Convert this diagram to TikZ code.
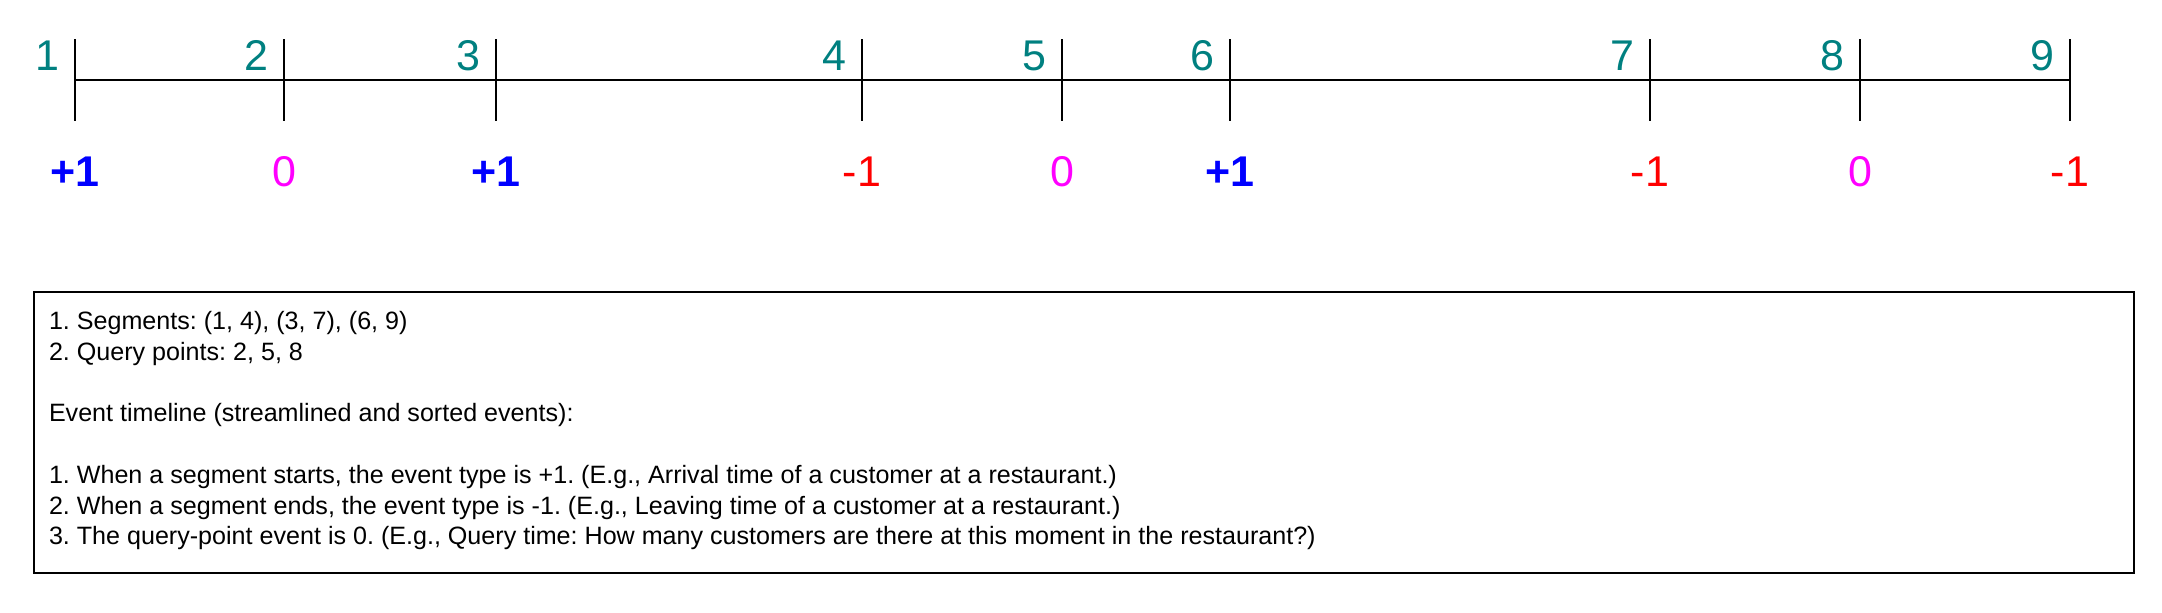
\documentclass[tikz,border=0pt]{standalone}
\usepackage{fontspec}
\setmainfont{Liberation Sans}
\definecolor{querypink}{RGB}{255,0,255}

\begin{document}
\frenchspacing
\begin{tikzpicture}[x=0.5pt, y=-0.5pt, line width=1pt,
  ticknum/.style={text=teal, font=\fontsize{21.5}{25}\selectfont, anchor=base east, inner sep=0pt},
  evtype/.style={font=\fontsize{21.5}{25}\selectfont, anchor=base, inner sep=0pt},
  evstart/.style={evtype, text=blue, font=\fontsize{21.5}{25}\selectfont\bfseries},
  evend/.style={evtype, text=red},
  evquery/.style={evtype, text=querypink},
  notes/.style={align=left, inner sep=0pt, font=\fontsize{12.55}{15.4}\selectfont}]
  \useasboundingbox (0,0) rectangle (2162,612);

  \foreach \n/\x in {1/75, 2/284, 3/496, 4/862, 5/1062, 6/1230, 7/1650, 8/1860, 9/2070}
    \coordinate (t\n) at (\x,80);
  \draw (t1) -- (t9);
  \foreach \n in {1,...,9} {
    \draw (t\n) ++(0,-41) -- ++(0,82);
    \node[ticknum] (n\n) at ([shift={(-15,-10)}]t\n) {\n};
  }
  \foreach \n/\v/\s in {1/+1/evstart, 2/0/evquery, 3/+1/evstart, 4/-1/evend, 5/0/evquery,
                        6/+1/evstart, 7/-1/evend, 8/0/evquery, 9/-1/evend}
    \node[\s] (e\n) at ([shift={(0,106)}]t\n) {\v};

  \node[draw, anchor=north west, minimum width=1050pt, minimum height=140.5pt, inner sep=0pt]
    (box) at (33,291) {};
  \node[notes, anchor=north west] (txt) at ([shift={(15,19)}]box.north west) {%
    1. Segments: (1, 4), (3, 7), (6, 9)\\
    2. Query points: 2, 5, 8\\[15.4pt]
    Event timeline (streamlined and sorted events):\\[15.4pt]
    1. When a segment starts, the event type is +1. (E.g., Arrival time of a customer at a restaurant.)\\
    2. When a segment ends, the event type is -1. (E.g., Leaving time of a customer at a restaurant.)\\
    3. The query-point event is 0. (E.g., Query time: How many customers are there at this moment in the restaurant?)};
\end{tikzpicture}
\end{document}
